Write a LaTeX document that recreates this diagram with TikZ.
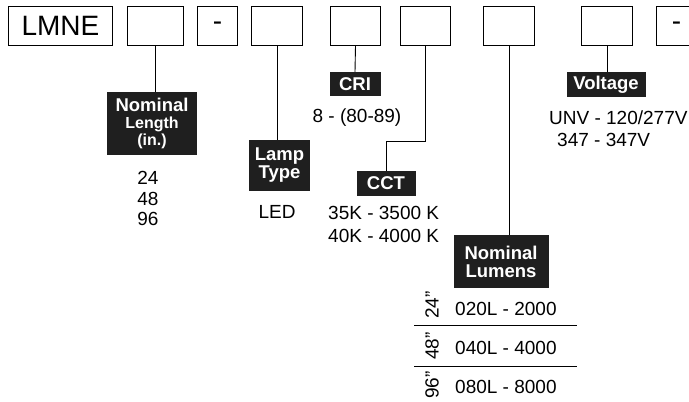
\documentclass[tikz,border=0pt]{standalone}
\usepackage{fontspec}
\setmainfont{Liberation Sans}
\begin{document}
\begin{tikzpicture}[x=1pt,y=-1pt,
  codebox/.style={draw=black,line width=1pt,minimum height=39pt,inner sep=0pt,anchor=north west,font=\fontsize{28}{30}\selectfont},
  lbl/.style={fill=black!88,text=white,inner sep=0pt,font=\bfseries\fontsize{18.5}{20}\selectfont,align=center},
  val/.style={inner sep=0pt,font=\fontsize{19}{21}\selectfont,align=center},
  conn/.style={line width=0.9pt}]
\useasboundingbox (0,0) rectangle (689,402);
% top row boxes
\node[codebox,minimum width=104pt] (b1) at (8,6) {LMNE};
\node[codebox,minimum width=56pt] (b2) at (127,6) {};
\node[codebox,minimum width=40pt] (b3) at (197,6) {-};
\node[codebox,minimum width=51pt] (b4) at (251,6) {};
\node[codebox,minimum width=50pt] (b5) at (330,6) {};
\node[codebox,minimum width=50pt] (b6) at (400,6) {};
\node[codebox,minimum width=51pt] (b7) at (483,6) {};
\node[codebox,minimum width=51pt] (b8) at (581,6) {};
\node[codebox,minimum width=40pt] (b9) at (656,6) {-};
% labels
\node[lbl,minimum width=90pt,minimum height=63pt] (nl) at (152,123.5)
  {Nominal\\[-3pt]{\fontsize{16}{17}\selectfont Length}\\[-3pt]{\fontsize{16}{17}\selectfont (in.)}};
\node[lbl,minimum width=61pt,minimum height=51pt] (lt) at (279.5,165.5) {Lamp\\[-2pt]Type};
\node[lbl,minimum width=51pt,minimum height=24pt] (cri) at (355,84) {CRI};
\node[lbl,minimum width=59pt,minimum height=25pt] (cct) at (386,183.5) {CCT};
\node[lbl,minimum width=79pt,minimum height=25pt] (volt) at (606,84.5) {Voltage};
\node[lbl,minimum width=95pt,minimum height=53pt] (lum) at (501,261.5) {Nominal\\[-2pt]Lumens};
% connectors
\draw[conn] (b2.south) -- (b2.south |- nl.north);
\draw[conn] (b4.south) -- (b4.south |- lt.north);
\draw[conn] (b5.south) -- (cri.north);
\draw[conn] (b6.south) -- ++(0,95) coordinate (cctbend) -| (cct.north);
\draw[conn] (b7.south) -- (b7.south |- lum.north);
\draw[conn] (b8.south) -- (b8.south |- volt.north);
% values
\node[val] (v24) at (148,178) {24};
\node[val] (v48) at (148,198.5) {48};
\node[val] (v96) at (148,219) {96};
\node[val] (led) at (277,212) {LED};
\node[val] (cri8) at (357,118) {8 - (80-89)};
\node[val,anchor=west] (cct35) at (328,213) {35K - 3500 K};
\node[val,anchor=west] (cct40) at (328,235.5) {40K - 4000 K};
\node[val,anchor=west] (unv) at (549,118) {UNV - 120/277V};
\node[val,anchor=west] (v347) at (557,139.5) {347 - 347V};
% lumens rows
\node[val,anchor=west] (l20) at (455,309) {020L - 2000};
\node[val,anchor=west] (l40) at (455,347.5) {040L - 4000};
\node[val,anchor=west] (l80) at (455,386.5) {080L - 8000};
\node[val,rotate=90] (r24) at (432,305) {24”};
\node[val,rotate=90] (r48) at (432,346) {48”};
\node[val,rotate=90] (r96) at (432,385) {96”};
\coordinate (s1l) at (414,325.5); \coordinate (s1r) at (577,325.5);
\coordinate (s2l) at (414,366); \coordinate (s2r) at (577,366);
\draw[line width=0.9pt] (s1l) -- (s1r);
\draw[line width=0.9pt] (s2l) -- (s2r);
\end{tikzpicture}
\end{document}
